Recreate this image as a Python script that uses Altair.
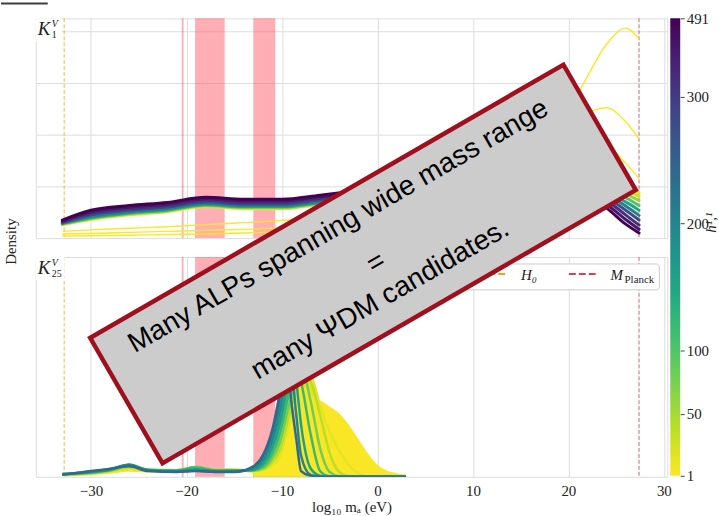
import altair as alt
import pandas as pd

# ---------------- data ----------------
X_TOP = [-33, -30, -26, -22, -18, -14, -10, -6, -2, 4, 10, 16, 21, 24, 26, 27.4]
TOP_H11 = [1, 2, 3, 12, 30, 60, 100, 150, 210, 280, 350, 420, 491]
TOP_Y = [
    [0.04, 0.045, 0.055, 0.07, 0.08, 0.10, 0.12, 0.14, 0.19, 0.35, 0.75, 1.60, 2.80, 3.75, 4.06, 3.85],
    [0.08, 0.09, 0.11, 0.13, 0.15, 0.17, 0.20, 0.24, 0.30, 0.50, 0.95, 1.70, 2.35, 2.52, 2.25, 1.92],
    [0.13, 0.16, 0.19, 0.22, 0.26, 0.30, 0.34, 0.39, 0.45, 0.62, 0.95, 1.40, 1.75, 1.75, 1.45, 1.15],
    [0.26, 0.36, 0.45, 0.51, 0.61, 0.57, 0.57, 0.65, 0.74, 0.87, 0.98, 1.04, 1.05, 1.05, 0.98, 0.87],
    [0.265, 0.37, 0.46, 0.52, 0.62, 0.58, 0.58, 0.66, 0.75, 0.88, 0.99, 1.06, 1.04, 1.02, 0.92, 0.81],
    [0.27, 0.38, 0.47, 0.53, 0.63, 0.59, 0.59, 0.67, 0.76, 0.89, 1.01, 1.08, 1.03, 0.98, 0.85, 0.73],
    [0.28, 0.39, 0.48, 0.54, 0.64, 0.60, 0.60, 0.68, 0.77, 0.91, 1.03, 1.09, 1.02, 0.94, 0.78, 0.63],
    [0.285, 0.40, 0.49, 0.55, 0.65, 0.61, 0.61, 0.69, 0.78, 0.92, 1.05, 1.10, 1.00, 0.89, 0.70, 0.54],
    [0.29, 0.42, 0.51, 0.57, 0.67, 0.63, 0.63, 0.71, 0.80, 0.94, 1.06, 1.10, 0.98, 0.84, 0.62, 0.44],
    [0.30, 0.45, 0.54, 0.60, 0.70, 0.66, 0.66, 0.74, 0.83, 0.97, 1.08, 1.10, 0.96, 0.78, 0.54, 0.35],
    [0.32, 0.48, 0.57, 0.63, 0.73, 0.69, 0.69, 0.77, 0.86, 0.99, 1.09, 1.10, 0.93, 0.72, 0.45, 0.25],
    [0.33, 0.51, 0.60, 0.66, 0.76, 0.72, 0.72, 0.80, 0.89, 1.02, 1.11, 1.09, 0.90, 0.65, 0.36, 0.17],
    [0.35, 0.54, 0.63, 0.69, 0.79, 0.75, 0.75, 0.83, 0.92, 1.04, 1.12, 1.08, 0.87, 0.58, 0.27, 0.10],
]

X_BOT = [-33, -30, -28, -26, -24, -21, -19, -17, -15, -13, -12, -11, -10, -9.5, -9, -8.5,
         -8, -7, -6, -5, -4, -3, -2, -1, 0, 1, 2, 3]
BOT_H11 = [3, 15, 40, 80, 120, 160, 200, 240]
BOT_Y = [
    [0.03, 0.06, 0.09, 0.13, 0.11, 0.13, 0.15, 0.14, 0.14, 0.11, 0.12, 0.18, 0.40, 0.75, 1.10, 1.50,
     1.90, 1.70, 1.58, 1.45, 1.30, 1.05, 0.75, 0.45, 0.22, 0.10, 0.05, 0.02],
    [0.04, 0.07, 0.11, 0.17, 0.13, 0.14, 0.18, 0.15, 0.15, 0.12, 0.14, 0.25, 0.55, 0.90, 1.30, 1.70,
     2.00, 2.10, 1.50, 0.95, 0.55, 0.25, 0.07, 0.01, 0, 0, 0, 0],
    [0.05, 0.08, 0.12, 0.20, 0.14, 0.14, 0.20, 0.15, 0.15, 0.13, 0.16, 0.32, 0.70, 1.10, 1.50, 1.90,
     2.20, 2.00, 1.30, 0.50, 0.10, 0.01, 0, 0, 0, 0, 0, 0],
    [0.05, 0.08, 0.13, 0.22, 0.15, 0.14, 0.21, 0.14, 0.14, 0.13, 0.18, 0.40, 0.90, 1.35, 1.80, 2.20,
     2.30, 1.60, 0.60, 0.10, 0.01, 0, 0, 0, 0, 0, 0, 0],
    [0.06, 0.09, 0.14, 0.25, 0.15, 0.13, 0.19, 0.13, 0.13, 0.14, 0.22, 0.50, 1.10, 1.60, 2.10, 2.30,
     2.00, 0.90, 0.12, 0.01, 0, 0, 0, 0, 0, 0, 0, 0],
    [0.06, 0.10, 0.15, 0.26, 0.14, 0.12, 0.16, 0.12, 0.12, 0.15, 0.28, 0.66, 1.40, 2.00, 2.40, 2.00,
     1.10, 0.18, 0.02, 0, 0, 0, 0, 0, 0, 0, 0, 0],
    [0.05, 0.11, 0.16, 0.25, 0.13, 0.11, 0.13, 0.11, 0.11, 0.18, 0.36, 0.82, 1.70, 2.30, 2.20, 1.30,
     0.45, 0.04, 0, 0, 0, 0, 0, 0, 0, 0, 0, 0],
    [0.04, 0.12, 0.17, 0.22, 0.12, 0.10, 0.12, 0.10, 0.10, 0.22, 0.45, 1.00, 2.00, 2.50, 1.55, 0.80,
     0.12, 0.02, 0, 0, 0, 0, 0, 0, 0, 0, 0, 0],
]

EXCL_LO = [-20.5, -19.1, -13.0]
EXCL_HI = [-20.3, -16.0, -10.7]
LOG_H0 = -32.8
LOG_MPLANCK = 27.4
X_TICKS = [-30, -20, -10, 0, 10, 20, 30]
CBAR_TICKS = [1, 50, 100, 200, 300, 491]
CBAR_LIMITS = [1, 491]

# ---------------- styling ----------------
SERIF = "Liberation Serif"
VIRIDIS_R = ["#fde725", "#bddf26", "#7ad151", "#44bf70", "#22a884", "#21918c",
             "#2a788e", "#355f8d", "#414487", "#482475", "#440154"]
# h11 value found at each tenth of the colorbar length (piecewise colorbar)
CB_DOMAIN = [1, 37.1, 73.2, 109.3, 145.4, 181.5, 217.7, 253.8, 289.9, 380.0, 491]
color_scale = alt.Scale(domain=CB_DOMAIN, range=VIRIDIS_R, interpolate="rgb")

X_DOM = [-35.78, 30.36]
W, H = 635, 221


def long_df(xs, hs, ys):
    rows = []
    for h, yy in zip(hs, ys):
        for x, y in zip(xs, yy):
            rows.append({"x": x, "d": y, "h11": h})
    return pd.DataFrame(rows)


top_df = long_df(X_TOP, TOP_H11, TOP_Y)
bot_df = long_df(X_BOT, BOT_H11, BOT_Y)
bands_df = pd.DataFrame({"lo": EXCL_LO, "hi": EXCL_HI})
h0_df = pd.DataFrame({"x": [LOG_H0]})
mp_df = pd.DataFrame({"x": [LOG_MPLANCK]})
cbar_df = pd.DataFrame({"lo": [CBAR_LIMITS[0]], "hi": [CBAR_LIMITS[1]]})
one = pd.DataFrame({"a": [0]})


def xenc(show):
    if show:
        ax = alt.Axis(values=X_TICKS, grid=True, ticks=False, domain=False, labelFont=SERIF,
                      labelFontSize=15, labelPadding=7, labelColor="#222222",
                      title="log₁₀ mₐ (eV)", titleFont=SERIF, titleFontSize=15,
                      titleFontWeight="normal", titleColor="#222222", titlePadding=1)
    else:
        ax = alt.Axis(values=X_TICKS, grid=True, ticks=False, domain=False, labels=False, title=None)
    return alt.X("x:Q", scale=alt.Scale(domain=X_DOM, nice=False, zero=False), axis=ax)


def yaxis(with_title):
    if with_title:
        return alt.Axis(values=[1, 2, 3, 4], grid=True, ticks=False, domain=False, labels=False,
                        title="Density", titleFont=SERIF, titleFontSize=15,
                        titleFontWeight="normal", titleColor="#222222", titleAngle=270,
                        titleX=-20, titleY=224, titleAlign="center",
                        titleBaseline="alphabetic")
    return alt.Axis(values=[1, 2, 3, 4], grid=True, ticks=False, domain=False, labels=False,
                    title=None)


def decor(show_x):
    bands = alt.Chart(bands_df).mark_rect(color="#ff4b5a", opacity=0.45).encode(
        x=xenc(show_x), x2="hi:Q").transform_calculate(x="datum.lo")
    h0 = alt.Chart(h0_df).mark_rule(color="#ff9f0e", opacity=0.5, strokeWidth=1.5,
                                    strokeDash=[4, 2]).encode(x="x:Q")
    mp = alt.Chart(mp_df).mark_rule(color="#c8323a", opacity=0.75, strokeWidth=1,
                                    strokeDash=[4, 2]).encode(x="x:Q")
    return [bands, h0, mp]


def panel_label(label_sub):
    lab_box = alt.Chart(one).mark_rect(color="white").encode(
        x=alt.value(0), x2=alt.value(26 if label_sub == "1" else 29),
        y=alt.value(0), y2=alt.value(23))
    k = alt.Chart(one).mark_text(text="K", font=SERIF, fontStyle="italic", fontSize=19,
                                 align="left", baseline="alphabetic", color="#222222").encode(
        x=alt.value(2), y=alt.value(17))
    ksup = alt.Chart(one).mark_text(text="V", font=SERIF, fontStyle="italic", fontSize=10,
                                    align="left", baseline="alphabetic", color="#222222").encode(
        x=alt.value(16), y=alt.value(9))
    ksub = alt.Chart(one).mark_text(text=label_sub, font=SERIF, fontSize=10, align="left",
                                    baseline="alphabetic", color="#222222").encode(
        x=alt.value(16), y=alt.value(20))
    return [lab_box, k, ksup, ksub]


# ---------------- top panel ----------------
top_scale = alt.Scale(domain=[0, 4.25], nice=False, zero=False)
band = alt.Chart(top_df).transform_filter("datum.h11 > 3").mark_line(
    interpolate="monotone", clip=True, strokeWidth=3, strokeCap="round").encode(
    x="x:Q", y=alt.Y("d:Q", scale=top_scale, axis=yaxis(True)),
    color=alt.Color("h11:Q", scale=color_scale, legend=None), detail="h11:N", order="x:Q")
thin = alt.Chart(top_df).transform_filter("datum.h11 <= 3").mark_line(
    interpolate="monotone", clip=True, strokeWidth=1.4).encode(
    x="x:Q", y=alt.Y("d:Q", scale=top_scale, axis=None),
    color=alt.Color("h11:Q", scale=color_scale, legend=None), detail="h11:N", order="x:Q")

grad = alt.LinearGradient(
    gradient="linear",
    stops=[alt.GradientStop(color=c, offset=i / 10) for i, c in enumerate(VIRIDIS_R)],
    x1=0, x2=0, y1=1, y2=0)
cbar = alt.Chart(cbar_df).mark_rect(color=grad).encode(
    x=alt.value(638), x2=alt.value(648),
    y=alt.Y("lo:Q", scale=alt.Scale(domain=[1, 300, 491], range=[460, 79, 0]),
            axis=alt.Axis(orient="right", values=CBAR_TICKS, offset=13, grid=False, domain=False,
                          ticks=True, tickSize=4, tickColor="#444444", labelFont=SERIF,
                          labelFontSize=15, labelPadding=2, labelColor="#222222",
                          labelOverlap=False, title="h¹,¹", titleFont=SERIF,
                          titleFontStyle="italic", titleFontSize=15, titleFontWeight="normal",
                          titleColor="#222222", titleAngle=270, titleX=35, titleY=205,
                          titleAlign="center", titleBaseline="alphabetic")),
    y2="hi:Q")
# dark strip at the very top-left corner of the image
corner = alt.Chart(one).mark_rect(color="#3a3d45").encode(
    x=alt.value(-35), x2=alt.value(12), y=alt.value(-16), y2=alt.value(-14))

top = alt.layer(*decor(False), band, thin, *panel_label("1"), cbar, corner).resolve_scale(
    y="independent").properties(width=W, height=H)

# ---------------- bottom panel ----------------
bot_scale = alt.Scale(domain=[0, 4.633], nice=False, zero=False)
fills = []
for h in sorted(BOT_H11, reverse=True):
    fills.append(
        alt.Chart(bot_df).transform_filter(f"datum.h11 == {h} && datum.x >= -13").mark_area(
            interpolate="monotone", clip=True, opacity=1).encode(
            x="x:Q",
            y=alt.Y("d:Q", scale=bot_scale, axis=yaxis(False) if not fills else None,
                    stack=None),
            color=alt.Color("h11:Q", scale=color_scale, legend=None)))
strokes = alt.Chart(bot_df).mark_line(interpolate="monotone", clip=True, strokeWidth=2.5).encode(
    x="x:Q", y=alt.Y("d:Q", scale=bot_scale),
    color=alt.Color("h11:Q", scale=color_scale, legend=None), detail="h11:N", order="x:Q")

# legend (mostly hidden under the annotation box)
leg_box = alt.Chart(one).mark_rect(color="white", stroke="#cccccc", strokeWidth=1,
                                   cornerRadius=3).encode(
    x=alt.value(405), x2=alt.value(627), y=alt.value(7), y2=alt.value(33))
leg_h0 = alt.Chart(one).mark_rule(color="#ff9f0e", strokeWidth=2, strokeDash=[7, 3]).encode(
    x=alt.value(445), x2=alt.value(475), y=alt.value(17))
leg_mp = alt.Chart(one).mark_rule(color="#d2454a", strokeWidth=2, strokeDash=[7, 3]).encode(
    x=alt.value(536), x2=alt.value(566), y=alt.value(17))
t_h0 = alt.Chart(one).mark_text(text="H₀", font=SERIF, fontStyle="italic", fontSize=15,
                                align="left", baseline="alphabetic", color="#222222").encode(
    x=alt.value(488), y=alt.value(23))
t_m = alt.Chart(one).mark_text(text="M", font=SERIF, fontStyle="italic", fontSize=15,
                               align="left", baseline="alphabetic", color="#222222").encode(
    x=alt.value(578), y=alt.value(23))
t_pl = alt.Chart(one).mark_text(text="Planck", font=SERIF, fontSize=11, align="left",
                                baseline="alphabetic", color="#222222").encode(
    x=alt.value(592), y=alt.value(26))

BOX_PATH = "M-1,-0.2648L1,-0.2648L1,0.2648L-1,0.2648Z"
box = alt.Chart(one).mark_point(shape=BOX_PATH, size=301950, angle=330, filled=True,
                                fill="#cccccc", stroke="#a00f1e", strokeWidth=4.5, opacity=1,
                                fillOpacity=1, strokeOpacity=1).encode(
    x=alt.value(329), y=alt.value(7))
msg_font = dict(font="Liberation Sans", fontSize=28, angle=330, align="center", color="black")
line1 = alt.Chart(one).mark_text(text="Many ALPs spanning wide mass range", baseline="alphabetic",
                                 dx=-2.5, dy=-37, **msg_font).encode(
    x=alt.value(329), y=alt.value(7))
line2 = alt.Chart(one).mark_text(text="=", baseline="middle", dx=12, dy=6, **msg_font).encode(
    x=alt.value(329), y=alt.value(7))
line3 = alt.Chart(one).mark_text(text="many ΨDM candidates.", baseline="alphabetic",
                                 dx=-3, dy=48, **msg_font).encode(
    x=alt.value(329), y=alt.value(7))

bottom = alt.layer(*decor(True), *fills, strokes, *panel_label("25"), leg_box, leg_h0, leg_mp,
                   t_h0, t_m, t_pl, box, line1, line2, line3).properties(width=W, height=H)

chart = alt.vconcat(top, bottom, spacing=19, bounds="flush").properties(
    padding={"left": 0, "top": 0, "right": 0, "bottom": 0}
).configure_view(fill="#eaeaf2", stroke="transparent").configure_axis(
    gridColor="white", gridWidth=1, gridOpacity=1
).configure(background="white")

chart.save("out.html", embed_options={"renderer": "svg", "actions": False})
